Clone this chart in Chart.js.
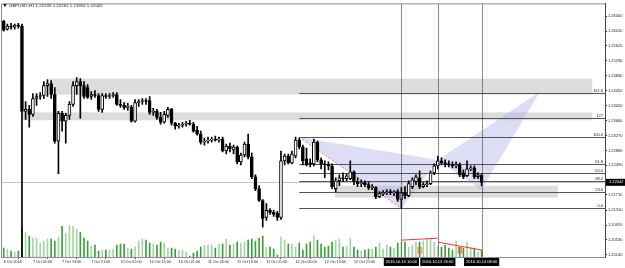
<!DOCTYPE html>
<html><head><meta charset="utf-8">
<script src="https://cdn.jsdelivr.net/npm/chart.js@4.4.1/dist/chart.umd.min.js"></script>
<style>html,body{margin:0;padding:0;background:#fff;overflow:hidden}canvas{display:block}</style>
</head><body>
<canvas id="c" width="625" height="268"></canvas>
<script>
const titleText = "GBPUSD,H1 1.22235 1.22261 1.21954 1.22042";
const openP = [
1.2627,1.26062,1.2614,1.26114,1.26166,1.2614,1.23904,1.23956,1.23826,1.24242,
1.24294,1.2432,1.2458,1.24632,1.24346,1.23124,1.23852,1.23644,1.238,1.24086,
1.2458,1.24684,1.2458,1.24528,1.24294,1.24346,1.2432,1.23956,1.2432,1.24294,
1.2432,1.24346,1.24086,1.2406,1.24008,1.24008,1.23644,1.24138,1.24164,1.2419,
1.2419,1.23878,1.23904,1.23748,1.23618,1.238,1.23956,1.23592,1.23514,1.2354,
1.23566,1.23592,1.23566,1.2341,1.23306,1.23098,1.23124,1.2315,1.23176,1.2315,
1.23176,1.22864,1.22994,1.2289,1.22968,1.22578,1.2276,1.23046,1.22708,1.22188,
1.21876,1.21564,1.21122,1.21304,1.21252,1.21226,1.21122,1.22604,1.22734,1.22552,
1.22734,1.2315,1.22968,1.22656,1.22552,1.22526,1.23098,1.2263,1.22526,1.225,
1.22474,1.21876,1.22084,1.22162,1.22136,1.22136,1.22318,1.22058,1.22006,1.22032,
1.2198,1.21902,1.21902,1.21668,1.21746,1.21772,1.21798,1.21772,1.21798,1.2159,
1.21772,1.21694,1.21928,1.22058,1.22162,1.21928,1.2198,1.22006,1.22292,1.22474,
1.22604,1.22552,1.22526,1.225,1.22474,1.225,1.22292,1.22214,1.22396,1.22422,
1.22188,1.22235];
const highP = [
1.26296,1.26192,1.26218,1.26192,1.26218,1.26192,1.24164,1.2406,1.24372,1.24372,
1.24398,1.24684,1.24736,1.2471,1.24528,1.23904,1.23904,1.23852,1.24164,1.24684,
1.24788,1.24762,1.24684,1.24606,1.24424,1.2445,1.24372,1.24372,1.24372,1.24372,
1.24398,1.24398,1.24216,1.24138,1.24112,1.2406,1.24216,1.24216,1.24242,1.24242,
1.24294,1.23982,1.23956,1.23878,1.23904,1.24008,1.23982,1.23618,1.23592,1.23618,
1.23644,1.2367,1.23618,1.23514,1.23384,1.23202,1.23228,1.23228,1.23254,1.23228,
1.23228,1.23046,1.23072,1.2302,1.22994,1.22812,1.23098,1.23306,1.22812,1.2224,
1.21954,1.2159,1.21486,1.21356,1.21304,1.21278,1.22864,1.22786,1.22786,1.22864,
1.23228,1.23202,1.2302,1.22942,1.22656,1.23176,1.23124,1.22682,1.22604,1.22578,
1.22526,1.22162,1.2224,1.22292,1.22266,1.22604,1.22344,1.22162,1.2211,1.22084,
1.22058,1.2198,1.21928,1.21798,1.21824,1.2185,1.2185,1.21824,1.2185,1.21902,
1.21928,1.22084,1.22162,1.2224,1.22344,1.22032,1.22084,1.22344,1.22526,1.22734,
1.22682,1.2263,1.22604,1.22578,1.22578,1.22552,1.2237,1.22604,1.22474,1.22474,
1.22292,1.22261];
const lowP = [
1.2601,1.26036,1.26062,1.26062,1.26088,1.1841,1.23696,1.23488,1.23774,1.2406,
1.24216,1.24242,1.24294,1.24242,1.23072,1.22266,1.23384,1.23072,1.23696,1.24034,
1.24346,1.23722,1.24242,1.24242,1.24216,1.24268,1.23904,1.23878,1.24242,1.24242,
1.24268,1.2406,1.24008,1.23956,1.2393,1.23618,1.23618,1.24034,1.24086,1.24086,
1.23826,1.238,1.23696,1.23566,1.23592,1.23748,1.2354,1.23436,1.23462,1.23488,
1.23514,1.2354,1.23358,1.2328,1.23046,1.2302,1.23072,1.23098,1.23124,1.23098,
1.22838,1.22786,1.22838,1.22786,1.22526,1.225,1.22708,1.22656,1.22136,1.21824,
1.21538,1.20862,1.21044,1.212,1.21148,1.21044,1.2107,1.225,1.22526,1.22526,
1.22682,1.22916,1.225,1.22474,1.22448,1.22474,1.22578,1.22396,1.22162,1.2237,
1.21876,1.21798,1.21954,1.22058,1.22084,1.2211,1.2198,1.21928,1.21928,1.21928,
1.2185,1.2185,1.21616,1.21642,1.21694,1.2172,1.2172,1.21694,1.21538,1.21356,
1.21616,1.21668,1.21876,1.2198,1.21876,1.21902,1.21928,1.2198,1.2224,1.22396,
1.225,1.22448,1.22448,1.22422,1.22422,1.22188,1.22136,1.22188,1.22344,1.22136,
1.22136,1.21954];
const closeP = [
1.26036,1.2614,1.26114,1.26166,1.2614,1.23904,1.23956,1.23826,1.24242,1.24294,
1.2432,1.2458,1.24632,1.24346,1.23124,1.23852,1.23644,1.238,1.24086,1.2458,
1.24684,1.2458,1.24294,1.24268,1.24346,1.2432,1.23956,1.2432,1.24294,1.2432,
1.24346,1.24086,1.2406,1.24008,1.24034,1.23644,1.24138,1.24164,1.2419,1.24164,
1.23878,1.23904,1.23748,1.23618,1.23826,1.23956,1.23592,1.23514,1.2354,1.23566,
1.23592,1.23566,1.23384,1.23306,1.23098,1.23124,1.2315,1.23176,1.2315,1.23176,
1.22864,1.22994,1.22916,1.22968,1.22578,1.2276,1.23046,1.22708,1.22188,1.21876,
1.21564,1.21096,1.21304,1.21252,1.212,1.21122,1.22604,1.22734,1.22552,1.22786,
1.2315,1.22968,1.22604,1.225,1.22526,1.23098,1.2263,1.22526,1.225,1.22474,
1.21928,1.22084,1.22162,1.22136,1.22214,1.22318,1.22058,1.22006,1.22032,1.2198,
1.21902,1.21928,1.21668,1.21746,1.21772,1.21798,1.21772,1.21798,1.2159,1.21772,
1.21694,1.22006,1.2211,1.22188,1.21928,1.2198,1.22006,1.22292,1.22474,1.22604,
1.22552,1.22526,1.225,1.22474,1.225,1.2224,1.22188,1.22396,1.22422,1.22188,
1.2224,1.22042];
const volumes = [
1800,1600,1200,1000,1200,6000,5000,4200,3800,3800,
2800,3200,3600,3600,3200,4000,6200,4800,6400,6200,
5600,5000,3800,3200,2200,2400,1200,1400,1400,1400,
1600,2400,2600,2600,1800,1600,2000,3200,3600,3400,
2800,2600,2400,3000,2800,1800,1800,1600,1400,1400,
1000,200,800,1200,2000,2400,2400,2400,1800,2600,
2600,3600,2400,2600,3000,2800,3000,3400,3600,3200,
3800,4200,2000,2000,1600,400,4000,3400,2600,2600,
2000,2800,1400,2600,3000,4200,3400,2600,2000,2200,
3000,3400,3600,2000,2200,3800,2000,1400,1200,1400,
1600,1600,2000,2800,1600,2400,2000,1800,2800,3000,
3000,2000,2400,3000,3000,3200,3600,3800,3000,2200,
2000,2400,1800,1400,3200,2000,1800,3000,2000,1800,
1000,1400];
const timeTickIdx = [0,8,16,24,32,40,48,56,64,72,80,88,96];
const timeTickLabels = ["6 Oct 2016","7 Oct 05:00","7 Oct 13:00","7 Oct 21:00","10 Oct 05:00","10 Oct 13:00","10 Oct 21:00","11 Oct 05:00","11 Oct 13:00","11 Oct 21:00","12 Oct 05:00","12 Oct 13:00","12 Oct 21:00"];
const priceTicks = [1.26400,1.26010,1.25620,1.25230,1.24840,1.24450,1.24050,1.23660,1.23270,1.22880,1.22490,1.21710,1.21310,1.20920,1.20530,1.20140];
// drawing objects (in data units)
const zoneStart = [12.7, 5.3, 90.8];
const zoneEnd = [161.3, 161.3, 151.9];
const zoneTop = [1.24762, 1.23878, 1.21954];
const zoneBottom = [1.24346, 1.2367, 1.21642];
const fibStartIdx = 81;
const fibLow = 1.21356, fibHigh = 1.23228;
const fibLevels = [0, 23.6, 38.2, 50, 61.8, 100, 127, 161.8];
const fibLabels = ["0.0","23.6","38.2","50.0","61.8","100.0","127","161.8"];
const patX = [81, 109, 119, 131, 147];
const patY = [1.23228, 1.21356, 1.2263, 1.2185, 1.24424];
const vlineIdx = [109, 119, 131];
const vlineLabels = ["2016.10.13 10:00","2016.10.13 20:00","2016.10.14 08:00"];
const divX = [109, 119, 119, 131];
const divV = [3400, 3800, 3000, 1400];
const markIdx = [114, 125];

const FONT = '"Liberation Sans", Arial, sans-serif';
const idx = openP.map((_, i) => i);
const bull = idx.map(i => closeP[i] >= openP[i]);

const overlay = {
  id: 'overlay',
  beforeDatasetsDraw(chart) {
    const {ctx, chartArea: a} = chart; const x = chart.scales.x, y = chart.scales.y;
    ctx.save();
    ctx.beginPath(); ctx.rect(a.left, a.top, a.right - a.left, a.bottom - a.top); ctx.clip();
    ctx.fillStyle = '#dcdcdc';
    zoneStart.forEach((s, k) => {
      const x0 = x.getPixelForValue(s), x1 = x.getPixelForValue(zoneEnd[k]);
      const y0 = y.getPixelForValue(zoneTop[k]), y1 = y.getPixelForValue(zoneBottom[k]);
      ctx.fillRect(x0, y0, x1 - x0, y1 - y0);
    });
    ctx.fillStyle = 'rgba(170,170,230,0.4)';
    [[0,1,2],[2,3,4]].forEach(t => {
      ctx.beginPath();
      t.forEach((p, j) => {
        const px = x.getPixelForValue(patX[p]), py = y.getPixelForValue(patY[p]);
        if (j) ctx.lineTo(px, py); else ctx.moveTo(px, py);
      });
      ctx.closePath(); ctx.fill();
    });
    const by = Math.round(y.getPixelForValue(closeP[closeP.length - 1])) + 0.5;
    ctx.strokeStyle = '#c4c4c4'; ctx.lineWidth = 1;
    ctx.beginPath(); ctx.moveTo(a.left, by); ctx.lineTo(a.right, by); ctx.stroke();
    const fx = x.getPixelForValue(fibStartIdx);
    ctx.strokeStyle = '#555';
    fibLevels.forEach(l => {
      const py = Math.round(y.getPixelForValue(fibLow + (fibHigh - fibLow) * l / 100)) + 0.5;
      ctx.beginPath(); ctx.moveTo(fx, py); ctx.lineTo(a.right, py); ctx.stroke();
    });
    ctx.strokeStyle = '#f07070'; ctx.setLineDash([2, 2]);
    ctx.beginPath();
    ctx.moveTo(x.getPixelForValue(patX[0]), y.getPixelForValue(patY[0]));
    ctx.lineTo(x.getPixelForValue(patX[1]), y.getPixelForValue(patY[1]));
    ctx.stroke(); ctx.setLineDash([]);
    ctx.restore();
  },
  afterDatasetsDraw(chart) {
    const {ctx, chartArea: a} = chart; const x = chart.scales.x, y = chart.scales.y, yv = chart.scales.yv;
    ctx.save();
    ctx.beginPath(); ctx.rect(a.left, a.top, a.right - a.left, a.bottom - a.top); ctx.clip();
    ctx.strokeStyle = '#222'; ctx.lineWidth = 1; ctx.setLineDash([1, 1]);
    vlineIdx.forEach(v => {
      const px = Math.round(x.getPixelForValue(v)) + 0.5;
      ctx.beginPath(); ctx.moveTo(px, a.top); ctx.lineTo(px, a.bottom); ctx.stroke();
    });
    ctx.setLineDash([]);
    ctx.strokeStyle = '#ff3030';
    for (let k = 0; k < divX.length; k += 2) {
      ctx.beginPath();
      ctx.moveTo(x.getPixelForValue(divX[k]), yv.getPixelForValue(divV[k]));
      ctx.lineTo(x.getPixelForValue(divX[k + 1]), yv.getPixelForValue(divV[k + 1]));
      ctx.stroke();
    }
    ctx.strokeStyle = '#ff5a3a';
    markIdx.forEach(m => {
      const px = x.getPixelForValue(m);
      const y0 = yv.getPixelForValue(1900), y1 = yv.getPixelForValue(800);
      ctx.strokeRect(px - 1.5, y0, 3, y1 - y0);
    });
    ctx.fillStyle = '#222'; ctx.font = '4px ' + FONT; ctx.textAlign = 'right'; ctx.textBaseline = 'bottom';
    fibLevels.forEach((l, k) => {
      const py = Math.round(y.getPixelForValue(fibLow + (fibHigh - fibLow) * l / 100));
      ctx.fillText(fibLabels[k], a.right - 2, py);
    });
    ctx.restore();
  },
  afterDraw(chart) {
    const {ctx, chartArea: a} = chart; const x = chart.scales.x, y = chart.scales.y;
    ctx.save();
    // frame
    ctx.strokeStyle = '#8c8c8c'; ctx.lineWidth = 1;
    ctx.beginPath();
    ctx.moveTo(a.left + 0.5, a.bottom); ctx.lineTo(a.left + 0.5, a.top + 0.5); ctx.lineTo(a.right, a.top + 0.5);
    ctx.stroke();
    // title
    ctx.fillStyle = '#222';
    ctx.beginPath(); ctx.moveTo(3, 4); ctx.lineTo(7, 4); ctx.lineTo(5, 7); ctx.closePath(); ctx.fill();
    ctx.font = '4.4px ' + FONT; ctx.textAlign = 'left'; ctx.textBaseline = 'middle';
    ctx.fillText(titleText, 9, 5.5);
    // price box
    const last = closeP[closeP.length - 1];
    const py = y.getPixelForValue(last);
    ctx.fillStyle = '#000'; ctx.fillRect(a.right + 1, py - 3.5, 625 - a.right - 1, 7);
    ctx.fillStyle = '#fff'; ctx.font = '4px ' + FONT; ctx.textBaseline = 'middle';
    ctx.fillText(last.toFixed(5), a.right + 4, py);
    // time boxes
    ctx.textAlign = 'center';
    vlineIdx.forEach((v, k) => {
      const px = x.getPixelForValue(v);
      const w = ctx.measureText(vlineLabels[k]).width + 4;
      ctx.fillStyle = '#000'; ctx.fillRect(px - w / 2, a.bottom + 1, w, 8);
      ctx.fillStyle = '#fff'; ctx.fillText(vlineLabels[k], px, a.bottom + 5);
    });
    ctx.restore();
  }
};

new Chart(document.getElementById('c'), {
  type: 'bar',
  data: {
    datasets: [
      { label: 'vol', data: idx.map(i => ({x: i, y: volumes[i]})), yAxisID: 'yv',
        backgroundColor: bull.map(b => b ? '#a3d5a3' : '#3a9e3a'), barThickness: 1, grouped: false, order: 3 },
      { label: 'wick', data: idx.map(i => ({x: i, y: [lowP[i], highP[i]]})), yAxisID: 'y',
        backgroundColor: '#000', barThickness: 1, grouped: false, order: 2 },
      { label: 'body', data: idx.map(i => ({x: i, y: [openP[i], closeP[i]]})), yAxisID: 'y',
        backgroundColor: bull.map(b => b ? '#fff' : '#000'), borderColor: '#000', borderWidth: 1,
        borderSkipped: false, minBarLength: 1, barThickness: 3, grouped: false, order: 1 }
    ]
  },
  options: {
    responsive: false, animation: false, devicePixelRatio: 1,
    layout: { padding: { left: 1, top: 1, right: 0, bottom: 0 } },
    plugins: { legend: { display: false }, tooltip: { enabled: false } },
    scales: {
      x: { type: 'linear', min: -0.748, max: 164.82, offset: false,
        grid: { display: true, drawOnChartArea: false, drawTicks: true, tickLength: 2, tickColor: '#555' },
        border: { display: true, color: '#8c8c8c' },
        afterBuildTicks: s => { s.ticks = timeTickIdx.map(v => ({ value: v })); },
        afterFit: s => { s.height = 11; },
        ticks: { autoSkip: false, maxRotation: 0, minRotation: 0, align: 'start', padding: 1,
          font: { family: FONT, size: 3.7 }, color: '#222',
          callback: (v, i) => timeTickLabels[i] }
      },
      y: { type: 'linear', position: 'right', min: 1.20082, max: 1.26738,
        grid: { drawOnChartArea: false, drawTicks: true, tickLength: 2, tickColor: '#333' },
        border: { display: true, color: '#444' },
        afterBuildTicks: s => { s.ticks = priceTicks.map(v => ({ value: v })); },
        afterFit: s => { s.width = 20; },
        ticks: { padding: 1, font: { family: FONT, size: 4 }, color: '#222',
          callback: v => Number(v).toFixed(5) }
      },
      yv: { type: 'linear', display: false, min: 0, max: 51200 }
    }
  },
  plugins: [overlay]
});
</script>
</body></html>
